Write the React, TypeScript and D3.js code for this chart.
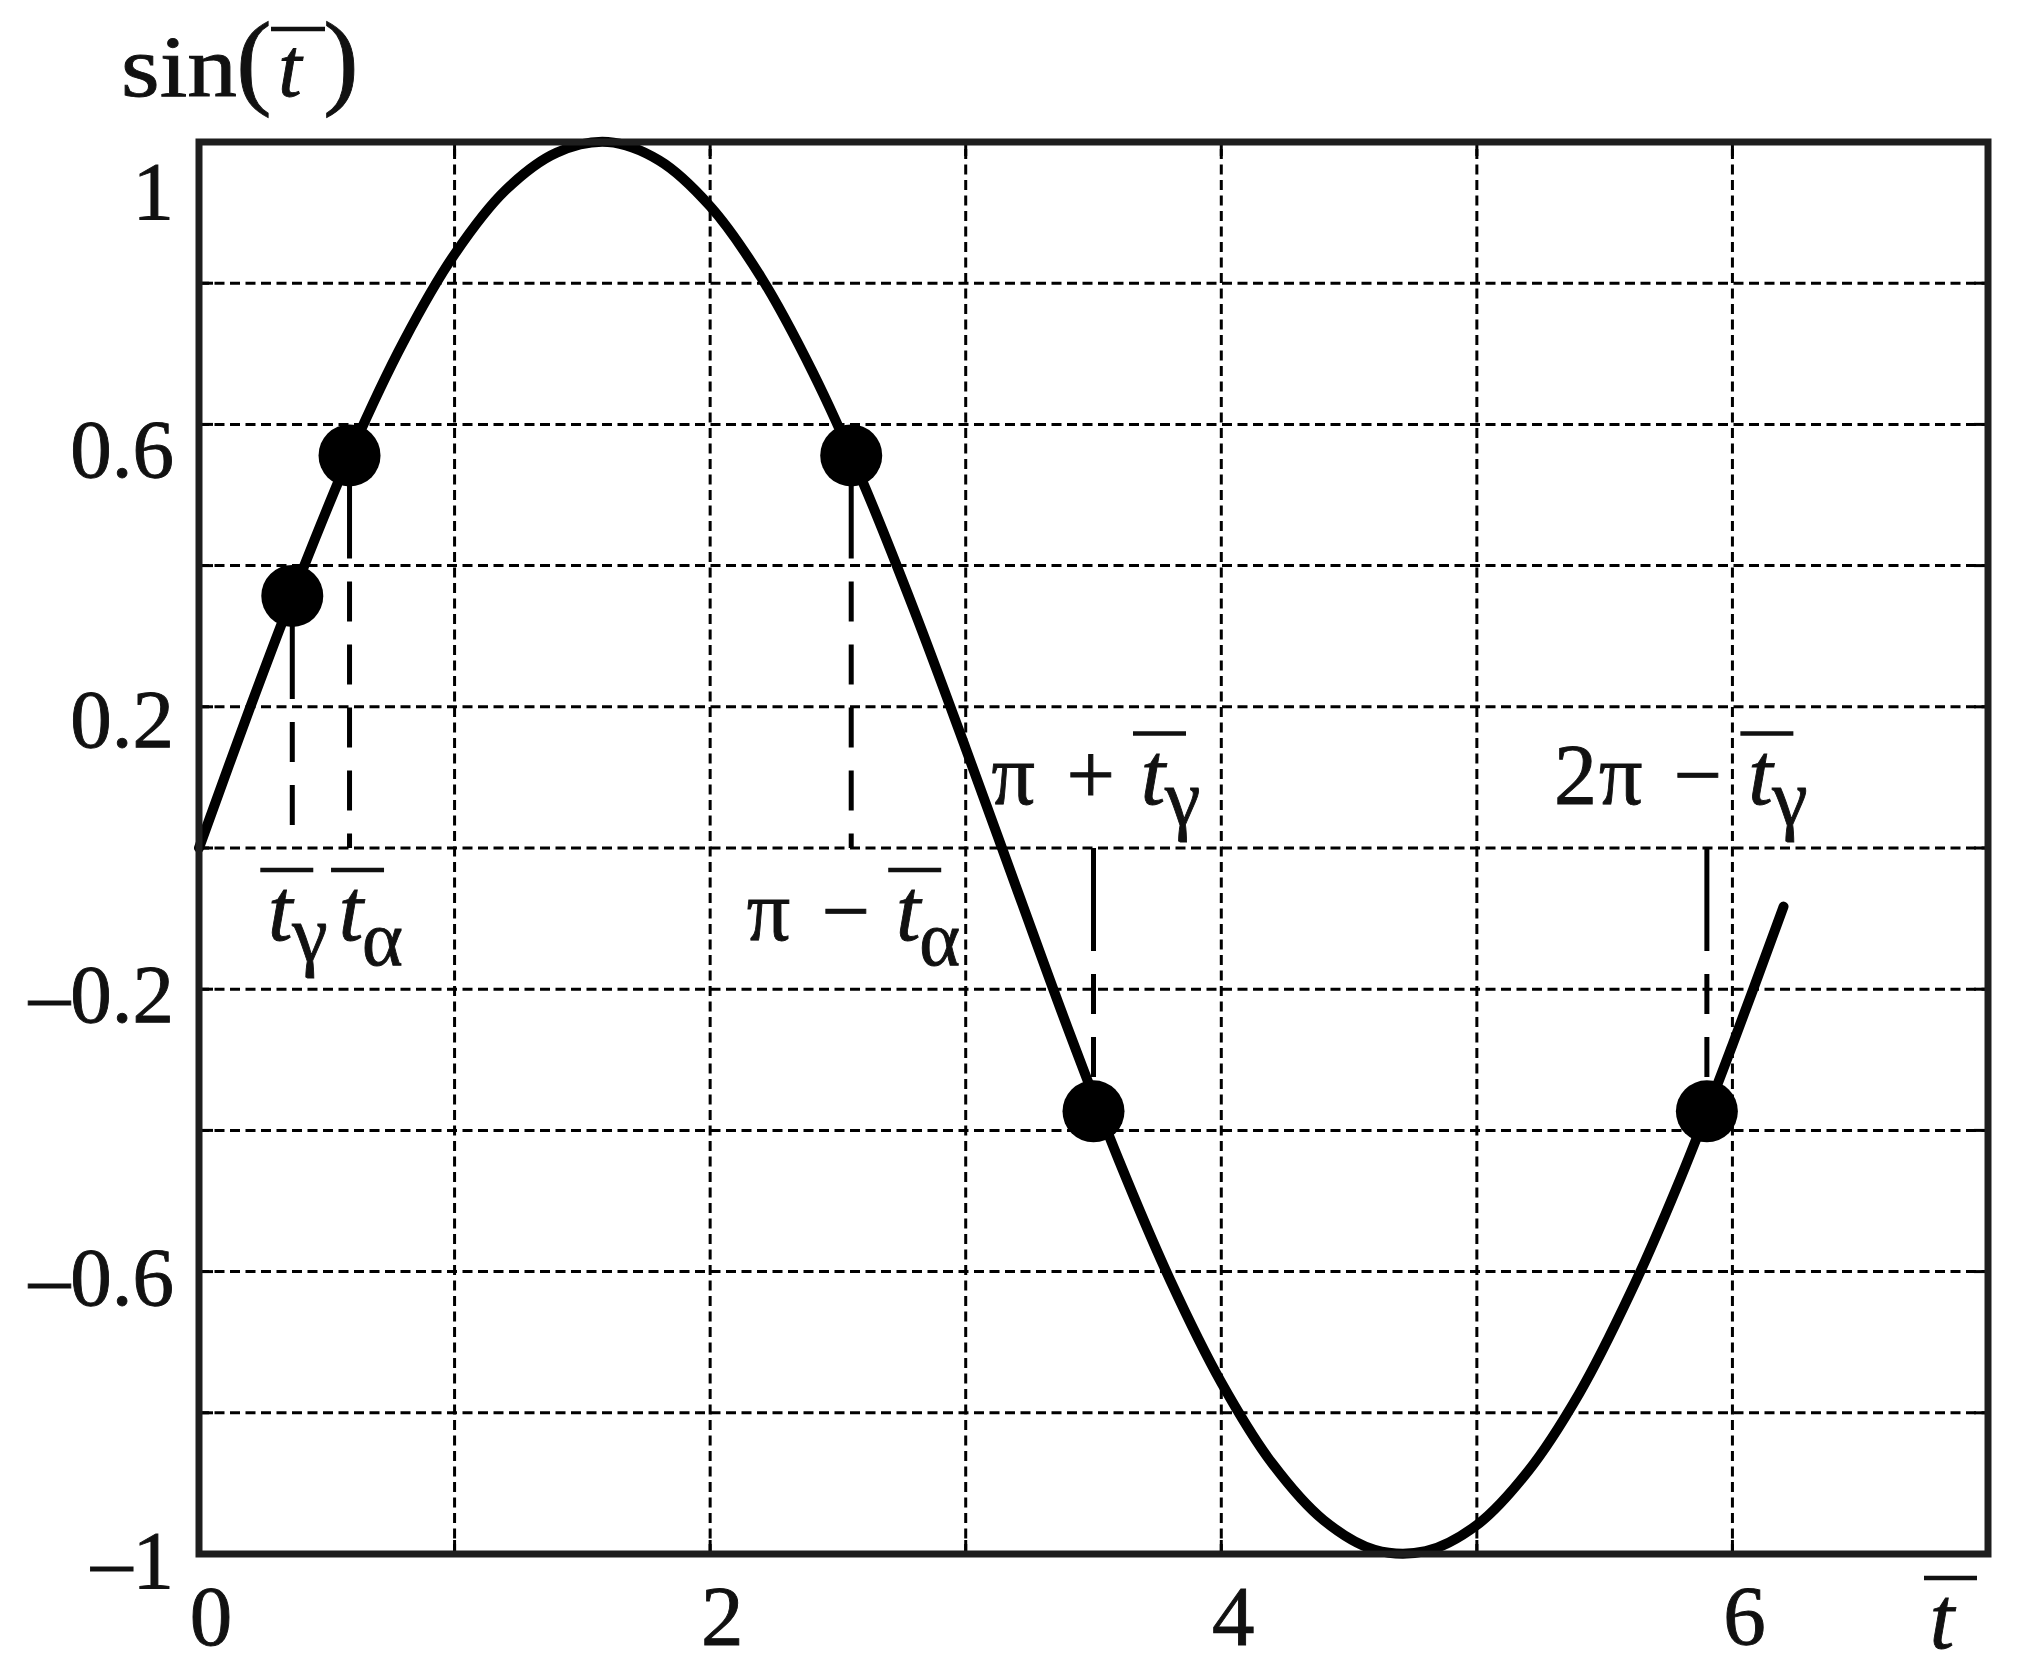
import React from "react";
import * as d3 from "d3";

// ---- data ----
const T_SAMPLES = [0, 0.2, 0.4, 0.6, 0.8, 1.0, 1.2, 1.4, 1.6, 1.8, 2.0, 2.2, 2.4, 2.6, 2.8, 3.0, 3.2, 3.4, 3.6, 3.8, 4.0, 4.2, 4.4, 4.6, 4.8, 5.0, 5.2, 5.4, 5.6, 5.8, 6.0, 6.2];
const SIN_VALUES = [0, 0.199, 0.389, 0.565, 0.717, 0.841, 0.932, 0.985, 1.0, 0.974, 0.909, 0.808, 0.675, 0.516, 0.335, 0.141, -0.058, -0.256, -0.443, -0.612, -0.757, -0.872, -0.952, -0.994, -0.996, -0.959, -0.883, -0.773, -0.631, -0.465, -0.279, -0.083];

const X_TICK_LABELS = [0, 2, 4, 6];
const Y_TICK_LABELS = [1, 0.6, 0.2, -0.2, -0.6, -1];
const GRID_X = [1, 2, 3, 4, 5, 6];
const GRID_Y = [-0.8, -0.6, -0.4, -0.2, 0, 0.2, 0.4, 0.6, 0.8];

const POINT_T = [0.365, 0.589, 2.552, 3.5, 5.9];
const POINT_V = [0.357, 0.556, 0.556, -0.373, -0.373];
const POINT_PREFIX = ["", "", "π −", "π +", "2π −"];
const POINT_SUB = ["γ", "α", "α", "γ", "γ"];

// ---- layout ----
const W = 2036;
const H = 1671;
const FONT = "'Liberation Serif', 'Times New Roman', Times, serif";
const INK = "#111";

const x = d3.scaleLinear().domain([0, 7]).range([199, 1988]);
const y = d3.scaleLinear().domain([-1, 1]).range([1554, 142]);

// baseline offsets of y tick labels relative to their value position
const Y_LABEL_DY: Record<string, number> = { "1": 77, "0.6": 53, "0.2": 40, "-0.2": 33, "-0.6": 33, "-1": 34 };
// annotation layout: offset of the "t" centre from the point, and baseline side
const LABEL_TDX = [-12, 1.5, 57, 59.5, 53.5];
const LABEL_BELOW = [true, true, true, false, false];

const fmt = (v: number) => (v < 0 ? "–" + String(Math.abs(v)) : String(v));

export default function App() {
  const y0 = y(0);
  const line = d3
    .line<number>()
    .x((_, i) => x(T_SAMPLES[i]))
    .y((v) => y(v))
    .curve(d3.curveCatmullRom.alpha(0.5));
  const curvePath = line(SIN_VALUES) || "";

  const [xl, xr] = x.range();
  const [yb, yt] = y.range();
  const tick = 14;
  const dropDash = "103 23 40 23 40 23 40 23 40 23 40 23 40 23 40 23";
  const textStroke = { stroke: INK, strokeWidth: 0.9 };

  return (
    <svg
      width={W}
      height={H}
      viewBox={`0 0 ${W} ${H}`}
      style={{ position: "absolute", left: 0, top: 0, background: "#fff" }}
    >
      <rect x={0} y={0} width={W} height={H} fill="#fff" />
      {/* grid */}
      <g stroke="#000" strokeWidth={3} strokeDasharray="10 5.5">
        {GRID_X.map((v) => (
          <line key={"gx" + v} x1={x(v)} x2={x(v)} y1={yb} y2={yt} />
        ))}
        {GRID_Y.map((v) => (
          <line key={"gy" + v} x1={xl} x2={xr} y1={y(v)} y2={y(v)} />
        ))}
      </g>
      {/* ticks */}
      <g stroke="#000" strokeWidth={3}>
        {GRID_X.map((v) => (
          <g key={"tx" + v}>
            <line x1={x(v)} x2={x(v)} y1={yb} y2={yb - tick} />
            <line x1={x(v)} x2={x(v)} y1={yt} y2={yt + tick} />
          </g>
        ))}
        {GRID_Y.map((v) => (
          <g key={"ty" + v}>
            <line x1={xl} x2={xl + tick} y1={y(v)} y2={y(v)} />
            <line x1={xr} x2={xr - tick} y1={y(v)} y2={y(v)} />
          </g>
        ))}
      </g>
      {/* drop lines */}
      <g stroke="#000" strokeWidth={5} strokeDasharray={dropDash} fill="none">
        {POINT_T.map((t, i) =>
          LABEL_BELOW[i] ? (
            <line key={"d" + i} x1={x(t)} x2={x(t)} y1={y(POINT_V[i])} y2={y0} />
          ) : (
            <line key={"d" + i} x1={x(t)} x2={x(t)} y1={y0} y2={y(POINT_V[i])} />
          )
        )}
      </g>
      {/* curve */}
      <path d={curvePath} fill="none" stroke="#000" strokeWidth={10} strokeLinecap="round" strokeLinejoin="round" />
      {/* points */}
      {POINT_T.map((t, i) => (
        <circle key={"p" + i} cx={x(t)} cy={y(POINT_V[i])} r={31} fill="#000" />
      ))}
      {/* frame */}
      <rect x={xl} y={yt} width={xr - xl} height={yb - yt} fill="none" stroke="#1e1e1e" strokeWidth={7} />

      {/* y tick labels */}
      <g fontFamily={FONT} fontSize={83} fill={INK} textAnchor="end" {...textStroke}>
        {Y_TICK_LABELS.map((v) => (
          <text key={"yl" + v} x={174} y={y(v) + Y_LABEL_DY[String(v)]}>
            {fmt(v)}
          </text>
        ))}
      </g>
      {/* x tick labels */}
      <g fontFamily={FONT} fontSize={85} fill={INK} textAnchor="middle" {...textStroke}>
        {X_TICK_LABELS.map((v) => (
          <text key={"xl" + v} x={x(v) + 12} y={1645}>
            {fmt(v)}
          </text>
        ))}
      </g>

      {/* axis titles */}
      <g fontFamily={FONT} fill={INK} {...textStroke}>
        <text x={121} y={96} fontSize={86} textLength={116} lengthAdjust="spacingAndGlyphs">
          sin
        </text>
        <text x={254} y={95} fontSize={106} textAnchor="middle">(</text>
        <text x={290} y={96} fontSize={84} fontStyle="italic" textAnchor="middle">t</text>
        <line x1={271} x2={325} y1={29} y2={29} stroke={INK} strokeWidth={4.5} />
        <text x={341} y={95} fontSize={106} textAnchor="middle">)</text>

        <text x={1942} y={1648} fontSize={88} fontStyle="italic" textAnchor="middle">t</text>
        <line x1={1924} x2={1977} y1={1578} y2={1578} stroke={INK} strokeWidth={4.5} />
      </g>

      {/* point annotations */}
      <g fontFamily={FONT} fill={INK} {...textStroke}>
        {POINT_T.map((t, i) => {
          const tc = x(t) + LABEL_TDX[i];
          const base = LABEL_BELOW[i] ? y0 + 92 : y0 - 44.5;
          const isGamma = POINT_SUB[i] === "γ";
          return (
            <g key={"lab" + i}>
              {POINT_PREFIX[i] && (
                <text x={tc - 36} y={base} fontSize={86} textAnchor="end" wordSpacing={6} letterSpacing={2}>
                  {POINT_PREFIX[i]}
                </text>
              )}
              <text x={tc} y={base} fontSize={88} fontStyle="italic" textAnchor="middle">
                t
              </text>
              <text
                x={tc + (isGamma ? 12 : 11)}
                y={base + (isGamma ? 21 : 25)}
                fontSize={isGamma ? 80 : 78}
                textAnchor="start"
              >
                {POINT_SUB[i]}
              </text>
              <line x1={tc - 20} x2={tc + 33} y1={base - 70} y2={base - 70} stroke={INK} strokeWidth={4.5} />
            </g>
          );
        })}
      </g>
    </svg>
  );
}
